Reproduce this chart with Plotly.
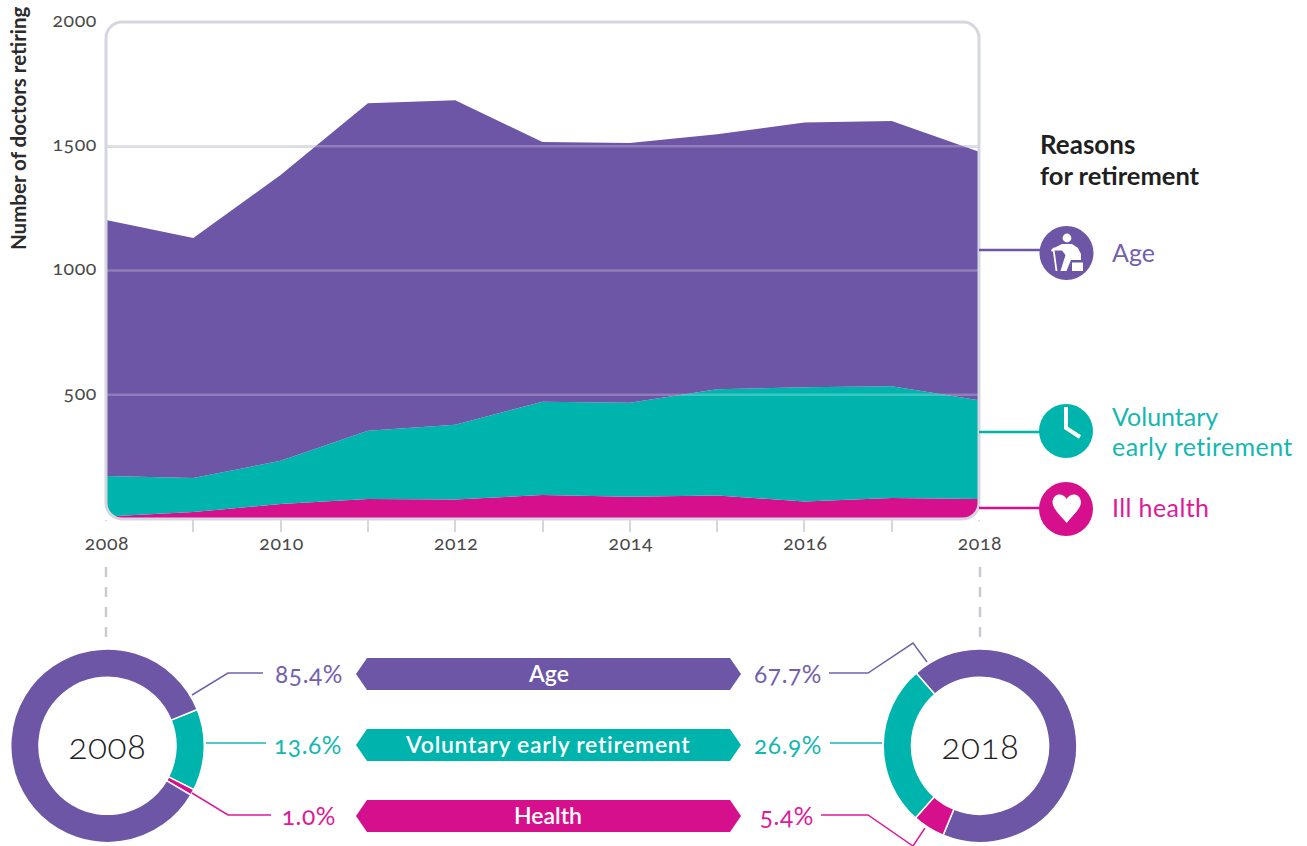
import plotly.graph_objects as go

W, H = 1307, 846

# ---- data ----
years = list(range(2008, 2019))
year_labels = ["2008", "", "2010", "", "2012", "", "2014", "", "2016", "", "2018"]
ill_health = [10, 28, 60, 80, 78, 97, 90, 95, 70, 85, 80]
voluntary = [163, 137, 174, 275, 301, 375, 378, 427, 460, 449, 398]
age = [1030, 966, 1150, 1318, 1306, 1045, 1045, 1026, 1066, 1068, 1000]
y_ticks = [500, 1000, 1500, 2000]
share_2008 = [13.6, 1.0, 85.4]      # voluntary, health, age
share_2018 = [67.7, 5.4, 26.9]      # age, health, voluntary
labels_2008 = ["85.4%", "13.6%", "1.0%"]
labels_2018 = ["67.7%", "26.9%", "5.4%"]
banner_names = ["Age", "Voluntary early retirement", "Health"]

PURPLE, TEAL, PINK = "#6c56a5", "#00b4ae", "#d60f8c"
T_PURPLE, T_TEAL, T_PINK = "#7360ad", "#14b7b1", "#de1a98"
GREY = "#d5d6df"
FONT = "Lato"

# plot box in page pixels
L, R, T, B = 106, 979, 22, 519


def X(x):
    return x / W


def Y(y):
    return 1 - y / H


def path(points, close=False):
    s = "M" + " L".join(f"{X(x):.5f},{Y(y):.5f}" for x, y in points)
    return s + (" Z" if close else "")


def cpath(cmds):
    """cmds: list of (letter, [(x,y),...])"""
    out = []
    for c, pts in cmds:
        out.append(c + " ".join(f"{X(x):.5f},{Y(y):.5f}" for x, y in pts))
    return " ".join(out)


def pshape(d, fill=None, line=None, width=0, dash=None):
    s = dict(type="path", path=d, xref="paper", yref="paper", layer="above",
             line=dict(color=line or "rgba(0,0,0,0)", width=width))
    if dash:
        s["line"]["dash"] = dash
    if fill:
        s["fillcolor"] = fill
    return s


def circle(cx, cy, r, fill):
    return dict(type="circle", xref="paper", yref="paper", layer="above",
                x0=X(cx - r), x1=X(cx + r), y0=Y(cy + r), y1=Y(cy - r),
                fillcolor=fill, line=dict(width=0))


def text(x, y, s, color, size, anchor="left", weight=400):
    return dict(x=X(x), y=Y(y), xref="paper", yref="paper", text=s,
                showarrow=False, xanchor=anchor, yanchor="middle",
                font=dict(family=FONT, size=size, color=color, weight=weight))


fig = go.Figure()
for name, vals, col in [("Ill health", ill_health, PINK),
                        ("Voluntary early retirement", voluntary, TEAL),
                        ("Age", age, PURPLE)]:
    fig.add_trace(go.Scatter(x=years, y=vals, name=name, stackgroup="one", mode="none",
                             fillcolor=col, hoverinfo="skip", showlegend=False))

r_px, cy_px = 96.8, 745.8
for cx_px, vals, cols, rot in [(107.5, share_2008, [TEAL, PINK, PURPLE], 68),
                               (980, share_2018, [PURPLE, PINK, TEAL], 318.7)]:
    fig.add_trace(go.Pie(values=vals, sort=False, direction="clockwise", rotation=rot,
                         hole=0.708, textinfo="none", hoverinfo="skip", showlegend=False,
                         marker=dict(colors=cols, line=dict(color="white", width=1.5)),
                         domain=dict(x=[X(cx_px - r_px), X(cx_px + r_px)],
                                     y=[Y(cy_px + r_px), Y(cy_px - r_px)])))

shapes = []
# translucent grid over the areas
for v in y_ticks[:3]:
    shapes.append(dict(type="line", xref="paper", yref="y", layer="above", x0=X(L), x1=X(R), y0=v, y1=v,
                       line=dict(color="rgba(255,255,255,0.24)", width=2.5)))
# hide ticks at both ends
for xc in (L, R):
    shapes.append(pshape(path([(xc - 6, 521), (xc + 6, 521), (xc + 6, 533), (xc - 6, 533)], True), fill="white"))
# white corner masks + rounded frame
rad = 16
k = rad * 0.45
shapes.append(pshape(cpath([("M", [(L - 1, B - rad)]), ("C", [(L - 1, B - k), (L + k, B + 1), (L + rad, B + 1)]),
                            ("L", [(L - 1, B + 1)])]) + " Z", fill="white"))
shapes.append(pshape(cpath([("M", [(R + 1, B - rad)]), ("C", [(R + 1, B - k), (R - k, B + 1), (R - rad, B + 1)]),
                            ("L", [(R + 1, B + 1)])]) + " Z", fill="white"))
frame = cpath([("M", [(L + rad, T)]), ("L", [(R - rad, T)]), ("C", [(R - k, T), (R, T + k), (R, T + rad)]),
               ("L", [(R, B - rad)]), ("C", [(R, B - k), (R - k, B), (R - rad, B)]),
               ("L", [(L + rad, B)]), ("C", [(L + k, B), (L, B - k), (L, B - rad)]),
               ("L", [(L, T + rad)]), ("C", [(L, T + k), (L + k, T), (L + rad, T)])]) + " Z"
shapes.append(pshape(frame, line=GREY, width=3))

# dashed drop lines
for xc in (106, 980):
    shapes.append(pshape(path([(xc, 637), (xc, 558)]), line="#c9cad3", width=2.5, dash="10px,10px"))

# legend connectors and bullets
shapes.append(pshape(path([(R, 250), (1042, 250)]), line=PURPLE, width=2.5))
shapes.append(pshape(path([(R, 432), (1042, 432)]), line=TEAL, width=2.5))
shapes.append(pshape(path([(R, 508), (1042, 508)]), line=PINK, width=2.5))
shapes.append(circle(1066.5, 253, 27, PURPLE))
shapes.append(circle(1066, 431, 27, TEAL))
shapes.append(circle(1066, 509, 27, PINK))

# clock hands
shapes.append(pshape(path([(1066, 407), (1066, 428), (1080, 437)]), line="white", width=4))
# heart
shapes.append(pshape(cpath([("M", [(1066.7, 499)]),
                            ("C", [(1063, 492), (1053, 493), (1052.5, 502)]),
                            ("C", [(1052.5, 509), (1061, 516), (1066.7, 523)]),
                            ("C", [(1072, 516), (1081, 509), (1081, 502)]),
                            ("C", [(1080.5, 493), (1070, 492), (1066.7, 499)])]) + " Z", fill="white"))
# seated person with stick
shapes.append(circle(1067, 238, 4.4, "white"))
shapes.append(pshape(path([(1062, 244), (1072, 244), (1078, 248), (1081, 254), (1081, 260), (1071, 260),
                           (1066.5, 271), (1060.5, 271), (1065.5, 255), (1062, 250.5), (1054, 250.5), (1054, 248)], True),
                     fill="white"))
shapes.append(pshape(path([(1051.5, 251), (1053.5, 249), (1056.5, 271)]), line="white", width=1.8))
shapes.append(pshape(path([(1072, 262.5), (1083, 262.5), (1083, 271), (1072, 271)], True), fill="white"))

# donut leaders
for pts, col in [
    ([(192, 695), (228, 673), (263, 673)], T_PURPLE),
    ([(206, 743), (266, 743)], T_TEAL),
    ([(192, 793), (228, 815), (271, 815)], T_PINK),
    ([(927, 662), (913, 643), (868, 673), (829, 673)], T_PURPLE),
    ([(882, 743), (830, 743)], T_TEAL),
    ([(925, 828), (913, 846), (868, 815), (821, 815)], T_PINK),
]:
    shapes.append(pshape(path(pts), line=col, width=1.5))

# banners
for (y0, y1), col in zip([(658, 690), (729, 761), (800, 832)], [PURPLE, TEAL, PINK]):
    m = (y0 + y1) / 2
    shapes.append(pshape(path([(356, m), (367, y0), (730, y0), (741, m), (730, y1), (367, y1)], True), fill=col))

ann = [
    dict(x=X(18), y=Y(128), xref="paper", yref="paper", text="<b>Number of doctors retiring</b>",
         textangle=-90, showarrow=False, xanchor="center", yanchor="middle",
         font=dict(family=FONT, size=20.5, color="#2b2b2b")),
    text(1038, 144, "Reasons", "#1f1f1f", 26, weight=700),
    text(1038, 175, "for retirement", "#1f1f1f", 25.5, weight=700),
    text(1110, 252, "Age", T_PURPLE, 25),
    text(1110, 416, "Voluntary", T_TEAL, 25),
    text(1113, 446, "early retirement", T_TEAL, 25),
    text(1112, 507, "Ill health", T_PINK, 25),
    text(107.5, 745, "2008", "#222222", 35, "center", weight=300),
    text(980, 745, "2018", "#222222", 35, "center", weight=300),
]
for lab, y, col, xr in zip(labels_2008, [673, 744, 815], [T_PURPLE, T_TEAL, T_PINK], [345, 344, 338]):
    ann.append(text(xr, y, lab, col, 24.5, "right"))
for lab, y, col, xc in zip(labels_2018, [673, 744, 815], [T_PURPLE, T_TEAL, T_PINK], [788, 788, 787]):
    ann.append(text(xc, y, lab, col, 24.5, "center"))
for name, y in zip(banner_names, [673, 744, 815]):
    ann.append(text(548, y, name, "white", 23, "center", weight=600))

tick_font = dict(family=FONT, size=19.5, color="#4a4a4a", weight=400)
fig.update_layout(
    width=W, height=H, margin=dict(l=0, r=0, t=0, b=0), autosize=False,
    paper_bgcolor="white", plot_bgcolor="white", showlegend=False,
    xaxis=dict(domain=[X(L), X(R)], range=[2008, 2018], tickmode="array", tickvals=years, ticktext=year_labels,
               ticks="outside", ticklen=12, tickwidth=2, tickcolor=GREY, showgrid=False, showline=False, zeroline=False,
               tickfont=tick_font, ticklabelstandoff=-5, ticklabelshift=1, tickangle=0, automargin=False),
    yaxis=dict(domain=[Y(B), Y(T)], range=[0, 2000], tickmode="array", tickvals=y_ticks,
               ticks="", gridcolor=GREY, gridwidth=2.5, showline=False, zeroline=False,
               tickfont=tick_font, ticklabelstandoff=8, ticklabelshift=-2, automargin=False),
    shapes=shapes, annotations=ann,
)

post = """
document.body.style.margin='0';document.documentElement.style.overflow='hidden';
document.querySelectorAll('svg text').forEach(function(t){
  t.style.fontFeatureSettings="'onum'";
  var s=t.textContent.trim();
  if(/^[0-9.%]+$/.test(s)){t.style.letterSpacing='0.6px';}
  if(s==='Voluntary early retirement'){t.style.letterSpacing='0.7px';}
  if(s==='early retirement'||s==='Ill health'){t.style.letterSpacing='0.4px';}
});
"""
fig.write_html("out.html", post_script=post, config=dict(displayModeBar=False))
